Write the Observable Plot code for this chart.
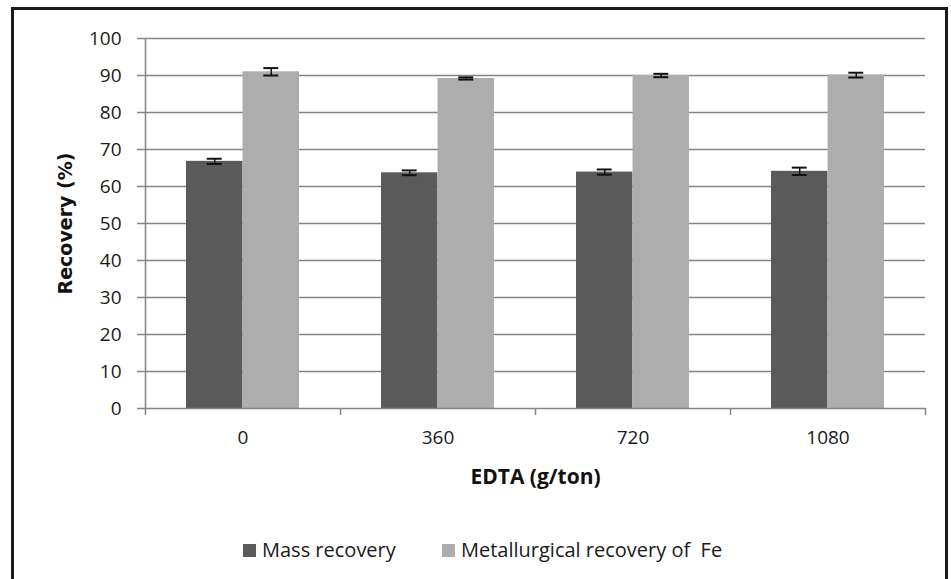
<!DOCTYPE html>
<html>
<head>
<meta charset="utf-8">
<script src="https://cdn.jsdelivr.net/npm/d3@7"></script>
<script src="https://cdn.jsdelivr.net/npm/@observablehq/plot@0.6"></script>
<style>
  html, body { margin: 0; padding: 0; background: #fff; width: 951px; height: 579px; overflow: hidden; position: relative; }
  #frame { position: absolute; left: 11px; top: 7px; width: 931px; height: 620px; border: 3px solid #1a1a1a; box-sizing: content-box; }
  #chart { position: absolute; left: 0; top: 0; }
  #legend { position: absolute; left: 0; top: 536px; width: 951px; font-family: "Open Sans", sans-serif; font-size: 20px; color: #1a1a1a; }
  .item { position: absolute; top: 0; display: flex; align-items: center; white-space: pre; }
  .sw { width: 13px; height: 13px; margin-right: 6px; margin-top: 2px; }
</style>
</head>
<body>
<div id="frame"></div>
<div id="chart"></div>
<div id="legend"></div>
<script>
const categories = ["0", "360", "720", "1080"];
const massRecovery = [66.8, 63.7, 63.9, 64.1];
const massError = [0.7, 0.65, 0.7, 1.0];
const feRecovery = [91.0, 89.2, 90.0, 90.1];
const feError = [1.0, 0.3, 0.45, 0.65];
const seriesNames = ["Mass recovery", "Metallurgical recovery of  Fe"];
const seriesColors = ["#5a5a5a", "#adadad"];
const yTicks = [0, 10, 20, 30, 40, 50, 60, 70, 80, 90, 100];

const W = 951, H = 500;
const mL = 145, mR = 26, mT = 38, mB = 92;
const pad = 0.42;
const step = (W - mL - mR) / categories.length;
const bw = step * (1 - pad);
const capHalf = 7.5;

const mass = categories.map((c, i) => ({cat: c, v: massRecovery[i], e: massError[i]}));
const fe = categories.map((c, i) => ({cat: c, v: feRecovery[i], e: feError[i]}));

const gridColor = "#858585";

const plot = Plot.plot({
  width: W,
  height: H,
  marginLeft: mL,
  marginRight: mR,
  marginTop: mT,
  marginBottom: mB,
  style: {fontFamily: "'Open Sans', sans-serif", fontSize: "19px", color: "#1a1a1a", background: "transparent"},
  x: {domain: categories, paddingInner: pad, paddingOuter: pad / 2, label: null},
  y: {domain: [0, 100], label: null},
  marks: [
    Plot.ruleY(yTicks.filter(d => d > 0), {stroke: gridColor, strokeWidth: 1.5}),
    Plot.axisY({ticks: yTicks, tickSize: 8, tickPadding: 16, stroke: gridColor, strokeWidth: 1.5, tickFormat: d => d, label: null, fill: "#1a1a1a", fontSize: 19}),
    // y axis line (left edge of first band step)
    Plot.ruleX(categories.slice(0, 1), {x: d => d, y1: 0, y2: 100, dx: -step / 2, stroke: gridColor, strokeWidth: 1.5}),
    Plot.barY(mass, {x: "cat", y: "v", fill: seriesColors[0], insetRight: bw / 2}),
    Plot.barY(fe, {x: "cat", y: "v", fill: seriesColors[1], insetLeft: bw / 2}),
    // error bars
    Plot.ruleX(mass, {x: "cat", y1: d => d.v - d.e, y2: d => d.v + d.e, dx: -bw / 4, stroke: "#111", strokeWidth: 1.5}),
    Plot.ruleX(fe, {x: "cat", y1: d => d.v - d.e, y2: d => d.v + d.e, dx: bw / 4, stroke: "#111", strokeWidth: 1.5}),
    Plot.tickY(mass, {x: "cat", y: d => d.v + d.e, insetLeft: bw / 4 - capHalf, insetRight: 3 * bw / 4 - capHalf, stroke: "#111", strokeWidth: 2}),
    Plot.tickY(mass, {x: "cat", y: d => d.v - d.e, insetLeft: bw / 4 - capHalf, insetRight: 3 * bw / 4 - capHalf, stroke: "#111", strokeWidth: 2}),
    Plot.tickY(fe, {x: "cat", y: d => d.v + d.e, insetLeft: 3 * bw / 4 - capHalf, insetRight: bw / 4 - capHalf, stroke: "#111", strokeWidth: 2}),
    Plot.tickY(fe, {x: "cat", y: d => d.v - d.e, insetLeft: 3 * bw / 4 - capHalf, insetRight: bw / 4 - capHalf, stroke: "#111", strokeWidth: 2}),
    // x axis line and boundary ticks
    Plot.ruleY([0], {stroke: gridColor, strokeWidth: 1.5}),
    Plot.ruleX(categories, {x: d => d, y1: 0, y2: 0, dx: -step / 2, insetBottom: -7, stroke: gridColor, strokeWidth: 1.5}),
    Plot.ruleX(categories.slice(-1), {x: d => d, y1: 0, y2: 0, dx: step / 2, insetBottom: -7, stroke: gridColor, strokeWidth: 1.5}),
    Plot.axisX({tickSize: 0, tickPadding: 22, label: null, fill: "#1a1a1a", fontSize: 19}),
    // axis titles
    Plot.text(["Recovery (%)"], {frameAnchor: "left", dx: -80, rotate: -90, textAnchor: "middle", lineAnchor: "middle", fontFamily: "'DejaVu Sans', sans-serif", fontWeight: "bold", fontSize: 19, fill: "#111"}),
    Plot.text(["EDTA (g/ton)"], {frameAnchor: "bottom", dy: 69, textAnchor: "middle", lineAnchor: "middle", fontFamily: "'Open Sans', sans-serif", fontWeight: "bold", fontSize: 21, fill: "#111"})
  ]
});
document.getElementById("chart").appendChild(plot);

const legend = document.getElementById("legend");
const legendLeft = [243, 442];
seriesNames.forEach((name, i) => {
  const item = document.createElement("div");
  item.className = "item";
  item.style.left = legendLeft[i] + "px";
  const sw = document.createElement("span");
  sw.className = "sw";
  sw.style.background = seriesColors[i];
  const t = document.createElement("span");
  t.textContent = name;
  item.appendChild(sw);
  item.appendChild(t);
  legend.appendChild(item);
});
</script>
</body>
</html>
